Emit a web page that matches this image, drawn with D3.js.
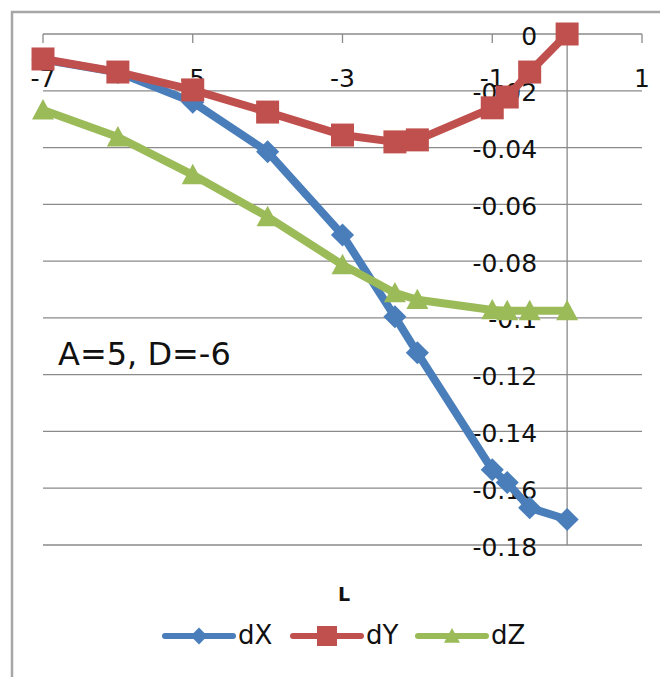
<!DOCTYPE html>
<html>
<head>
<meta charset="utf-8">
<script src="https://cdn.jsdelivr.net/npm/d3@7"></script>
<style>
  html, body { margin: 0; padding: 0; background: #fff; }
  svg { display: block; }
  text { font-family: "DejaVu Sans", sans-serif; fill: #111; }
</style>
</head>
<body>
<script>
// ---- data ----
const xValues = [-7, -6, -5, -4, -3, -2.3, -2, -1, -0.8, -0.5, 0];
const dX = [-0.009, -0.0135, -0.024, -0.0415, -0.0708, -0.0996, -0.1123, -0.1535, -0.158, -0.1669, -0.171];
const dY = [-0.0088, -0.0134, -0.0197, -0.0275, -0.0356, -0.038, -0.0373, -0.026, -0.0222, -0.0134, 0];
const dZ = [-0.0268, -0.0363, -0.0496, -0.0644, -0.0813, -0.0912, -0.0936, -0.0972, -0.0975, -0.0975, -0.0975];
const seriesNames = ["dX", "dY", "dZ"];
const xTicks = [-7, -5, -3, -1, 1];
const xTickLabels = ["-7", "-5", "-3", "-1", "1"];
const yTicks = [0, -0.02, -0.04, -0.06, -0.08, -0.1, -0.12, -0.14, -0.16, -0.18];
const yTickLabels = ["0", "-0.02", "-0.04", "-0.06", "-0.08", "-0.1", "-0.12", "-0.14", "-0.16", "-0.18"];
const axisTitle = "L";
const annotation = "A=5, D=-6";

// ---- setup ----
const W = 660, H = 677;
const colors = { dX: "#4A7EBB", dY: "#C0504D", dZ: "#9BBB59" };
const shapes = { dX: "diamond", dY: "square", dZ: "triangle" };

const svg = d3.select("body").append("svg").attr("width", W).attr("height", H);
svg.append("rect").attr("width", W).attr("height", H).attr("fill", "#fff");

// outer frame
svg.append("path")
  .attr("d", `M12,${H + 5} L12,12 L${W + 5},12`)
  .attr("fill", "none").attr("stroke", "#a6a6a6").attr("stroke-width", 2.5);

const x = d3.scaleLinear().domain([-7, 1]).range([43, 642]);
const y = d3.scaleLinear().domain([-0.18, 0]).range([545, 34]);

// gridlines
svg.append("g").selectAll("line").data(yTicks).join("line")
  .attr("x1", x(-7)).attr("x2", x(1))
  .attr("y1", d => y(d)).attr("y2", d => y(d))
  .attr("stroke", "#8a8a8a").attr("stroke-width", 1.3);

// vertical axis at x=0
svg.append("line")
  .attr("x1", x(0)).attr("x2", x(0)).attr("y1", y(0)).attr("y2", y(-0.18))
  .attr("stroke", "#8a8a8a").attr("stroke-width", 1.3);

// x ticks
svg.append("g").selectAll("line").data(xTicks).join("line")
  .attr("x1", d => x(d)).attr("x2", d => x(d))
  .attr("y1", y(0)).attr("y2", y(0) + 9)
  .attr("stroke", "#8a8a8a").attr("stroke-width", 1.3);

// x tick labels
svg.append("g").selectAll("text").data(xTicks).join("text")
  .attr("x", d => x(d)).attr("y", y(0) + 44)
  .attr("text-anchor", "middle").attr("dominant-baseline", "central")
  .attr("font-size", 25)
  .text((d, i) => xTickLabels[i]);

// y tick labels
svg.append("g").selectAll("text").data(yTicks).join("text")
  .attr("x", x(0) - 30).attr("y", d => y(d) + 2)
  .attr("text-anchor", "end").attr("dominant-baseline", "central")
  .attr("font-size", 25)
  .text((d, i) => yTickLabels[i]);

// marker path generator
function markerPath(shape, cx, cy, s) {
  if (shape === "square") {
    const h = s;
    return `M${cx - h},${cy - h}H${cx + h}V${cy + h}H${cx - h}Z`;
  }
  if (shape === "diamond") {
    const h = s * 1.05;
    return `M${cx},${cy - h}L${cx + h},${cy}L${cx},${cy + h}L${cx - h},${cy}Z`;
  }
  // triangle
  const hb = s, ht = s * 1.0;
  return `M${cx},${cy - ht}L${cx + hb},${cy + ht * 0.85}L${cx - hb},${cy + ht * 0.85}Z`;
}

const series = [
  { name: "dX", values: dX },
  { name: "dY", values: dY },
  { name: "dZ", values: dZ }
];

const line = d3.line().x(d => x(d[0])).y(d => y(d[1]));

series.forEach(s => {
  const pts = xValues.map((xv, i) => [xv, s.values[i]]);
  const g = svg.append("g");
  g.append("path")
    .attr("d", line(pts))
    .attr("fill", "none")
    .attr("stroke", colors[s.name])
    .attr("stroke-width", 8)
    .attr("stroke-linejoin", "round")
    .attr("stroke-linecap", "round");
  g.selectAll("path.m").data(pts).join("path")
    .attr("class", "m")
    .attr("d", d => markerPath(shapes[s.name], x(d[0]), y(d[1]), s.name === "dY" ? 11.5 : 11))
    .attr("fill", colors[s.name]);
});

// annotation
svg.append("text")
  .attr("x", 58).attr("y", 365)
  .attr("font-size", 32)
  .text(annotation);

// axis title
svg.append("text")
  .attr("x", 344).attr("y", 594)
  .attr("text-anchor", "middle").attr("dominant-baseline", "central")
  .attr("font-size", 19).attr("font-weight", "bold")
  .text(axisTitle);

// legend
const legendItems = [
  { name: "dX", x0: 165 },
  { name: "dY", x0: 293 },
  { name: "dZ", x0: 418 }
];
const ly = 636;
legendItems.forEach(it => {
  const g = svg.append("g");
  g.append("line")
    .attr("x1", it.x0).attr("x2", it.x0 + 68)
    .attr("y1", ly).attr("y2", ly)
    .attr("stroke", colors[it.name]).attr("stroke-width", 6)
    .attr("stroke-linecap", "round");
  const size = it.name === "dY" ? 10 : 8;
  g.append("path")
    .attr("d", markerPath(shapes[it.name], it.x0 + 34, ly, size))
    .attr("fill", colors[it.name]);
  g.append("text")
    .attr("x", it.x0 + 73).attr("y", ly - 1)
    .attr("dominant-baseline", "central")
    .attr("font-size", 26)
    .text(it.name);
});
</script>
</body>
</html>
